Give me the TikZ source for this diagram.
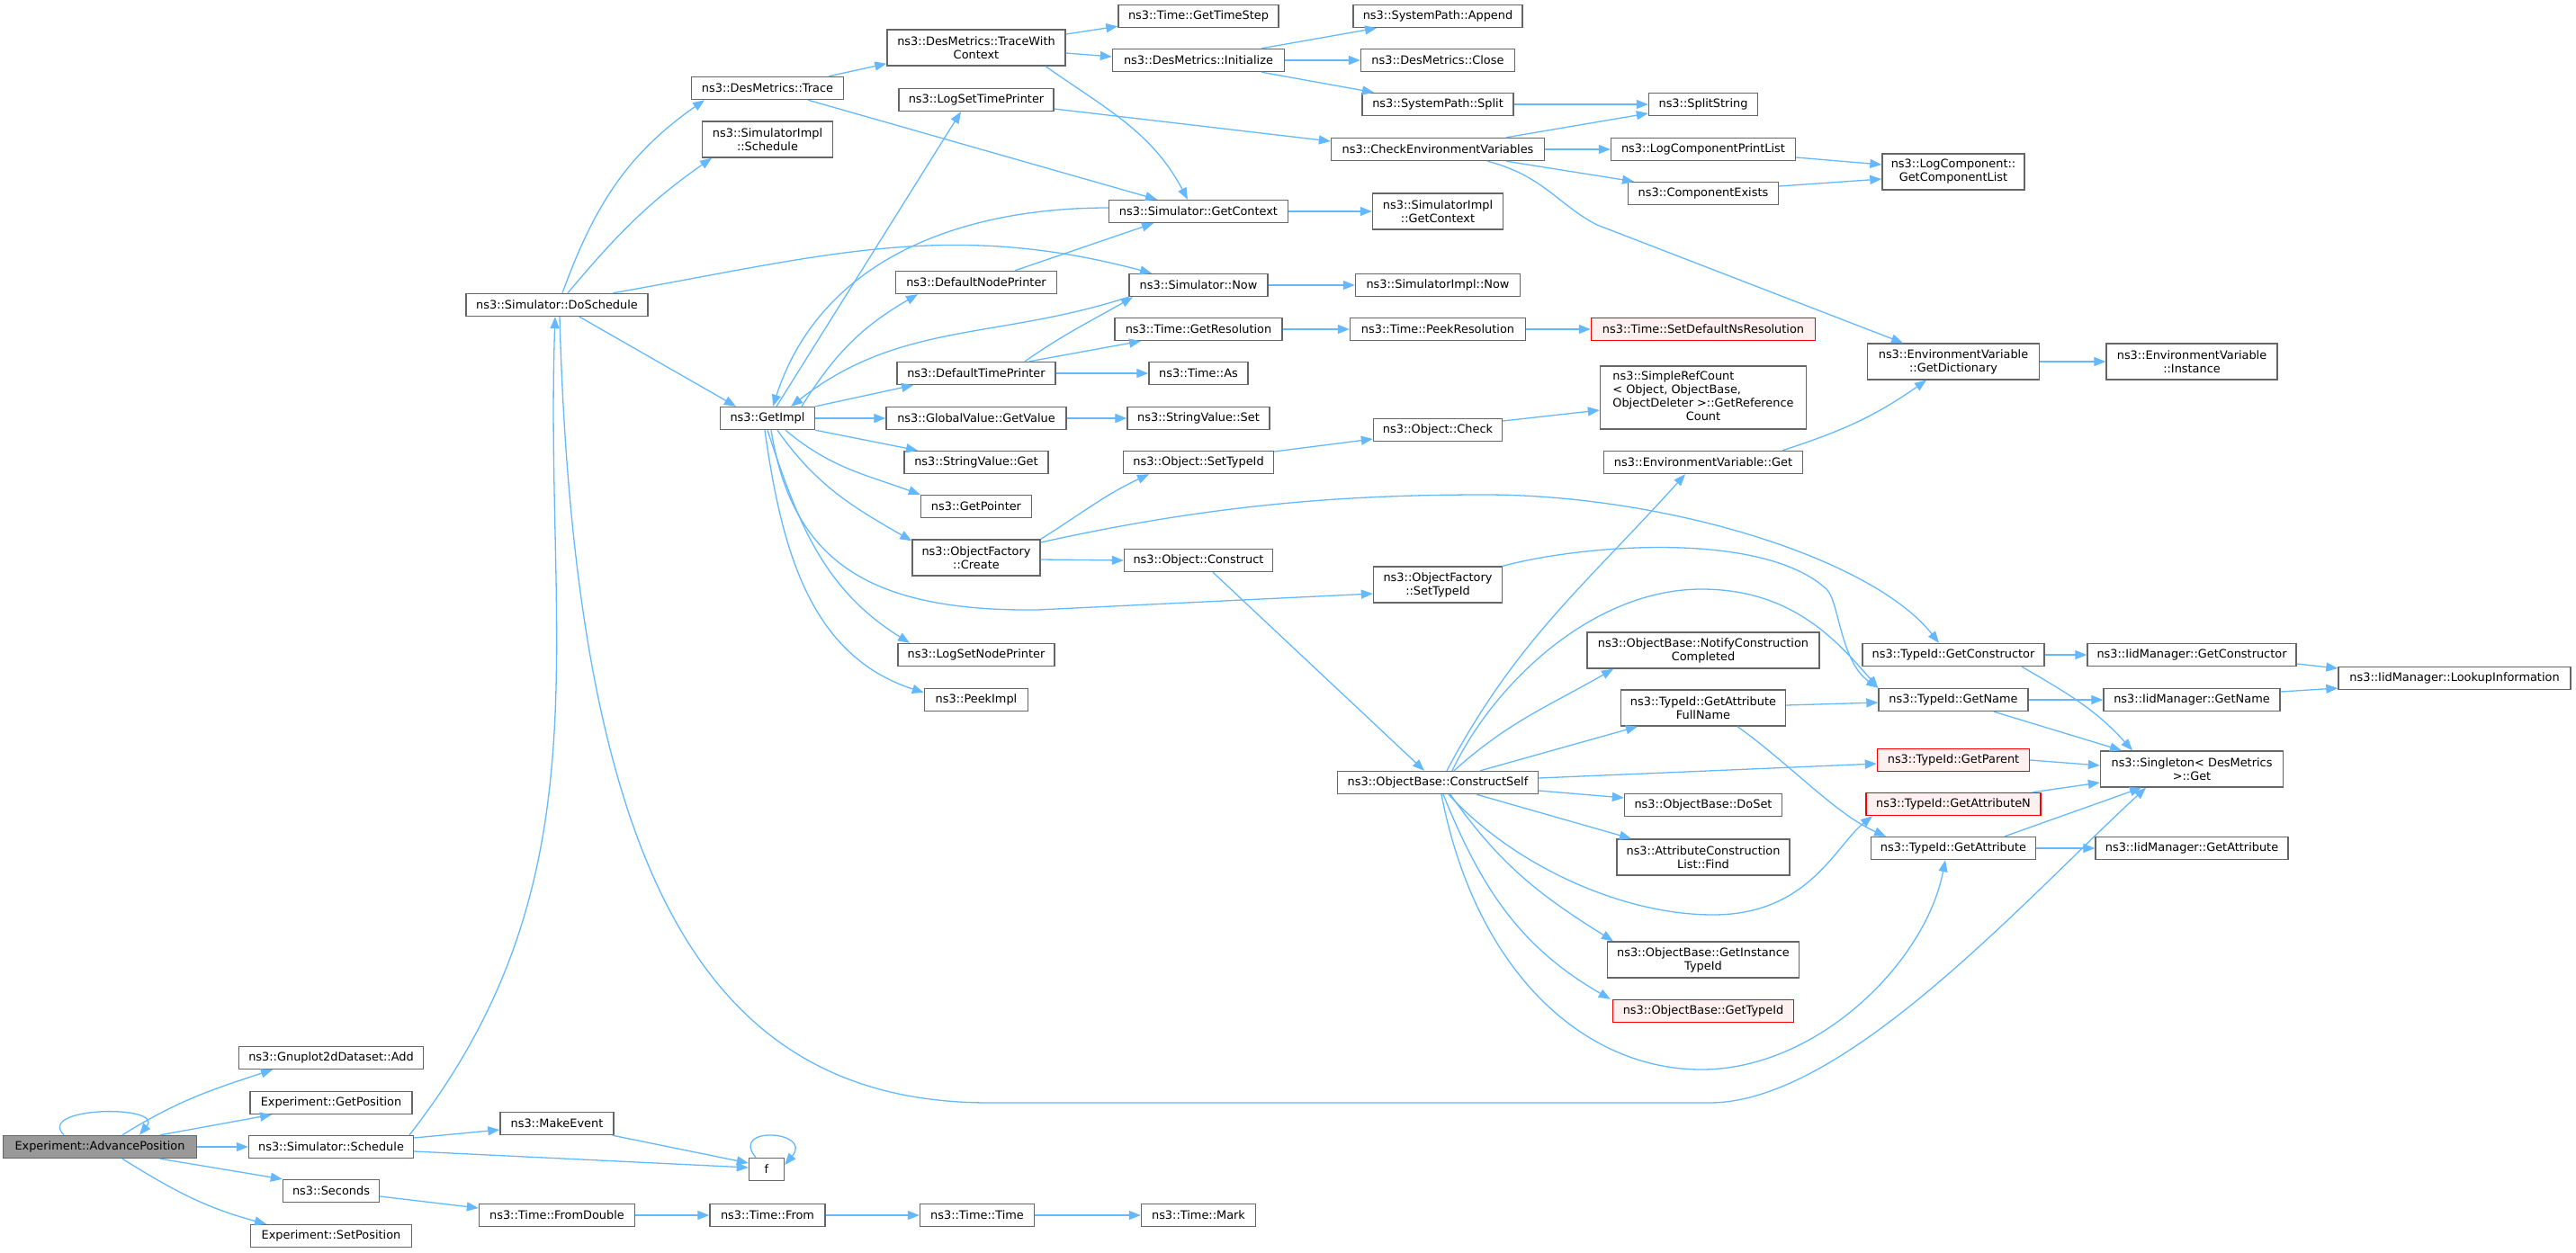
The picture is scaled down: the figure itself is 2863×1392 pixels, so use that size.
\documentclass[tikz,border=0pt]{standalone}
\usepackage{fontspec}
\setmainfont{DejaVu Sans}
\usetikzlibrary{arrows.meta}
\definecolor{edgeblue}{HTML}{63B8FF}
\definecolor{nodegray}{HTML}{666666}
\definecolor{rootfill}{HTML}{999999}
\definecolor{redfill}{HTML}{FFF0F0}

\begin{document}
\begin{tikzpicture}[
    x=1pt, y=1pt,
    box/.style={rectangle, draw=nodegray, fill=white, line width=1.4pt, minimum height=25pt, inner xsep=2pt, inner ysep=2pt, align=center, font=\fontsize{12.9}{15}\selectfont},
    tallbox/.style={box, minimum height=40pt},
    redbox/.style={box, draw=red, fill=redfill},
    arrow/.style={-{Triangle[length=13pt, width=10pt]}, draw=edgeblue, line width=1.3pt}
]
\useasboundingbox (0,0) rectangle (2863,-1392);

\node[box, fill=rootfill, minimum width=215pt] (adv) at (111,-1275) {Experiment::AdvancePosition};

\node[box, minimum width=205pt] (gnuplot) at (368,-1176) {ns3::Gnuplot2dDataset::Add};
\node[box, minimum width=180pt] (getpos) at (368,-1226) {Experiment::GetPosition};
\node[box, minimum width=183pt] (sched) at (368,-1275) {ns3::Simulator::Schedule};
\node[box, minimum width=107pt] (seconds) at (368,-1324) {ns3::Seconds};
\node[box, minimum width=179pt] (setpos) at (368,-1374) {Experiment::SetPosition};

\node[box, minimum width=202pt] (dosched) at (619,-339) {ns3::Simulator::DoSchedule};
\node[box, minimum width=126pt] (makeev) at (619,-1249) {ns3::MakeEvent};
\node[box, minimum width=173pt] (fromdbl) at (619,-1351) {ns3::Time::FromDouble};

\node[box, minimum width=169pt] (trace) at (853,-98) {ns3::DesMetrics::Trace};
\node[tallbox, minimum width=145pt] (implsched) at (853,-155) {ns3::SimulatorImpl\\::Schedule};
\node[box, minimum width=105pt] (getimpl) at (853,-465) {ns3::GetImpl};
\node[box, minimum width=39pt] (f) at (852,-1300) {f};
\node[box, minimum width=128pt] (from) at (853,-1351) {ns3::Time::From};

\node[tallbox, minimum width=198pt] (tracectx) at (1085,-53) {ns3::DesMetrics::TraceWith\\Context};
\node[box, minimum width=172pt] (logtp) at (1085,-111) {ns3::LogSetTimePrinter};
\node[box, minimum width=179pt] (defnode) at (1085,-314) {ns3::DefaultNodePrinter};
\node[box, minimum width=176pt] (deftime) at (1085,-415) {ns3::DefaultTimePrinter};
\node[box, minimum width=200pt] (gvget) at (1085,-465) {ns3::GlobalValue::GetValue};
\node[box, minimum width=160pt] (svget) at (1085,-514) {ns3::StringValue::Get};
\node[box, minimum width=123pt] (getptr) at (1085,-563) {ns3::GetPointer};
\node[tallbox, minimum width=142pt] (ofcreate) at (1085,-620) {ns3::ObjectFactory\\::Create};
\node[box, minimum width=174pt] (lognp) at (1085,-728) {ns3::LogSetNodePrinter};
\node[box, minimum width=115pt] (peekimpl) at (1085,-778) {ns3::PeekImpl};
\node[box, minimum width=127pt] (timetime) at (1086,-1351) {ns3::Time::Time};

\node[box, minimum width=178pt] (timestep) at (1332,-18) {ns3::Time::GetTimeStep};
\node[box, minimum width=191pt] (dminit) at (1332,-67) {ns3::DesMetrics::Initialize};
\node[box, minimum width=199pt] (getctx) at (1332,-235) {ns3::Simulator::GetContext};
\node[box, minimum width=154pt] (simnow) at (1332,-317) {ns3::Simulator::Now};
\node[box, minimum width=186pt] (getres) at (1332,-366) {ns3::Time::GetResolution};
\node[box, minimum width=110pt] (timeas) at (1332,-415) {ns3::Time::As};
\node[box, minimum width=158pt] (svset) at (1332,-465) {ns3::StringValue::Set};
\node[box, minimum width=167pt] (objsettid) at (1332,-514) {ns3::Object::SetTypeId};
\node[box, minimum width=165pt] (objconstr) at (1332,-623) {ns3::Object::Construct};
\node[box, minimum width=127pt] (timemark) at (1332,-1351) {ns3::Time::Mark};

\node[box, minimum width=188pt] (append) at (1598,-18) {ns3::SystemPath::Append};
\node[box, minimum width=171pt] (dmclose) at (1598,-67) {ns3::DesMetrics::Close};
\node[box, minimum width=168pt] (split) at (1598,-116) {ns3::SystemPath::Split};
\node[box, minimum width=237pt] (checkenv) at (1598,-166) {ns3::CheckEnvironmentVariables};
\node[tallbox, minimum width=145pt] (implctx) at (1598,-235) {ns3::SimulatorImpl\\::GetContext};
\node[box, minimum width=183pt] (implnow) at (1598,-317) {ns3::SimulatorImpl::Now};
\node[box, minimum width=195pt] (peekres) at (1598,-366) {ns3::Time::PeekResolution};
\node[box, minimum width=143pt] (objcheck) at (1598,-478) {ns3::Object::Check};
\node[tallbox, minimum width=143pt] (ofsettid) at (1598,-650) {ns3::ObjectFactory\\::SetTypeId};
\node[box, minimum width=223pt] (cself) at (1598,-870) {ns3::ObjectBase::ConstructSelf};

\node[box, minimum width=121pt] (splitstr) at (1893,-116) {ns3::SplitString};
\node[box, minimum width=205pt] (logcpl) at (1893,-166) {ns3::LogComponentPrintList};
\node[box, minimum width=167pt] (compex) at (1893,-215) {ns3::ComponentExists};
\node[redbox, minimum width=249pt] (setdefres) at (1893,-366) {ns3::Time::SetDefaultNsResolution};
\node[box, minimum width=229pt, minimum height=70pt] (refcount) at (1893,-442) {\begin{tabular}{@{}l@{}}ns3::SimpleRefCount\\< Object, ObjectBase,\\ObjectDeleter >::GetReference\\\multicolumn{1}{@{}c@{}}{Count}\end{tabular}};
\node[box, minimum width=221pt] (envget) at (1893,-514) {ns3::EnvironmentVariable::Get};
\node[tallbox, minimum width=258pt] (notify) at (1893,-723) {ns3::ObjectBase::NotifyConstruction\\Completed};
\node[tallbox, minimum width=183pt] (attrfull) at (1893,-787) {ns3::TypeId::GetAttribute\\FullName};
\node[box, minimum width=175pt] (doset) at (1893,-895) {ns3::ObjectBase::DoSet};
\node[tallbox, minimum width=192pt] (attrfind) at (1893,-953) {ns3::AttributeConstruction\\List::Find};
\node[tallbox, minimum width=213pt] (insttid) at (1893,-1067) {ns3::ObjectBase::GetInstance\\TypeId};
\node[redbox, minimum width=201pt] (obgettid) at (1893,-1124) {ns3::ObjectBase::GetTypeId};

\node[tallbox, minimum width=158pt] (complist) at (2171,-191) {ns3::LogComponent::\\GetComponentList};
\node[tallbox, minimum width=191pt] (getdict) at (2171,-402) {ns3::EnvironmentVariable\\::GetDictionary};
\node[box, minimum width=202pt] (tgetctor) at (2171,-728) {ns3::TypeId::GetConstructor};
\node[box, minimum width=166pt] (tgetname) at (2171,-778) {ns3::TypeId::GetName};
\node[redbox, minimum width=169pt] (tgetparent) at (2171,-845) {ns3::TypeId::GetParent};
\node[redbox, minimum width=194pt] (tgetattrn) at (2171,-894) {ns3::TypeId::GetAttributeN};
\node[box, minimum width=183pt] (tgetattr) at (2171,-943) {ns3::TypeId::GetAttribute};

\node[tallbox, minimum width=190pt] (envinst) at (2436,-402) {ns3::EnvironmentVariable\\::Instance};
\node[box, minimum width=232pt] (iidctor) at (2436,-728) {ns3::IidManager::GetConstructor};
\node[box, minimum width=196pt] (iidname) at (2436,-778) {ns3::IidManager::GetName};
\node[tallbox, minimum width=203pt] (singleton) at (2436,-855) {ns3::Singleton< DesMetrics\\>::Get};
\node[box, minimum width=214pt] (iidattr) at (2436,-943) {ns3::IidManager::GetAttribute};

\node[box, minimum width=258pt] (lookup) at (2728,-754) {ns3::IidManager::LookupInformation};

\draw[arrow] ([xshift=-40pt]adv.north) .. controls +(-32,32) and +(28,34) .. ([xshift=44pt]adv.north);
\draw[arrow] ([xshift=25pt]adv.north) to[out=32, in=198] ([xshift=-65pt]gnuplot.south);
\draw[arrow] ([xshift=67pt]adv.north) -- ([xshift=-66pt]getpos.south);
\draw[arrow] (adv.east) -- (sched.west);
\draw[arrow] ([xshift=67pt]adv.south) -- (seconds.north west);
\draw[arrow] ([xshift=25pt]adv.south) to[out=-32, in=165] ([xshift=-72pt]setpos.north);

\draw[arrow] ([xshift=87pt]sched.north) to[out=52, in=-92] ([xshift=-2pt]dosched.south);
\draw[arrow] ([yshift=10pt]sched.east) -- ([yshift=-7pt]makeev.west);
\draw[arrow] ([yshift=-5pt]sched.east) -- ([yshift=2pt]f.west);
\draw[arrow] ([xshift=-2pt]makeev.south east) -- ([yshift=7pt]f.west);
\draw[arrow] ([xshift=-12pt]f.north) .. controls +(-30,36) and +(32,38) .. ([yshift=5pt]f.east);
\draw[arrow] ([yshift=-6pt]seconds.east) -- ([yshift=8pt]fromdbl.west);
\draw[arrow] (fromdbl.east) -- (from.west);
\draw[arrow] (from.east) -- (timetime.west);
\draw[arrow] (timetime.east) -- (timemark.west);

\draw[arrow] ([xshift=6pt]dosched.north) to[out=70, in=215] ([xshift=-70pt]trace.south);
\draw[arrow] ([xshift=12pt]dosched.north) to[out=50, in=215] ([xshift=-62pt]implsched.south);
\draw[arrow] ([xshift=25pt]dosched.south) -- ([xshift=-35pt]getimpl.north);
\draw[arrow] ([xshift=62pt]dosched.north) to[out=10, in=165] ([xshift=-52pt]simnow.north);
\draw[arrow] ([xshift=3pt]dosched.south) .. controls (640,-1000) and (800,-1226) .. (1100,-1226) -- (1900,-1226) .. controls (2050,-1226) and (2250,-1000) .. ([xshift=-51pt]singleton.south);

\draw[arrow] ([xshift=68pt]trace.north) -- ([yshift=3pt]tracectx.south west);
\draw[arrow] ([xshift=45pt]trace.south) -- ([xshift=-46pt]getctx.north);
\draw[arrow] ([yshift=15pt]tracectx.east) -- ([yshift=2pt]timestep.south west);
\draw[arrow] ([yshift=-6pt]tracectx.east) -- ([yshift=4pt]dminit.west);
\draw[arrow] ([xshift=77pt]tracectx.south) to[out=-35, in=118] ([xshift=-12pt]getctx.north);
\draw[arrow] ([xshift=70pt]dminit.north) -- ([xshift=-68pt]append.south);
\draw[arrow] (dminit.east) -- (dmclose.west);
\draw[arrow] ([xshift=70pt]dminit.south) -- ([xshift=-71pt]split.north);
\draw[arrow] (split.east) -- (splitstr.west);

\draw[arrow] ([yshift=-10pt]logtp.east) -- ([yshift=9pt]checkenv.west);
\draw[arrow] ([xshift=76pt]checkenv.north) -- ([yshift=-10pt]splitstr.west);
\draw[arrow] (checkenv.east) -- (logcpl.west);
\draw[arrow] ([xshift=76pt]checkenv.south) -- ([xshift=-77pt]compex.north);
\draw[arrow] ([xshift=55pt]checkenv.south) .. controls (1715,-195) and (1732,-228) .. (1775,-250) -- ([xshift=-56pt]getdict.north);
\draw[arrow] ([yshift=-9pt]logcpl.east) -- ([yshift=8pt]complist.west);
\draw[arrow] ([yshift=8pt]compex.east) -- ([yshift=-8pt]complist.west);

\draw[arrow] (getctx.east) -- (implctx.west);
\draw[arrow] ([yshift=4pt]getctx.west) to[out=180, in=72] ([xshift=6pt]getimpl.north);
\draw[arrow] (simnow.east) -- (implnow.west);
\draw[arrow] (simnow.south west) to[out=198, in=38] ([xshift=26pt]getimpl.north);
\draw[arrow] ([xshift=43pt]defnode.north) -- ([xshift=-50pt]getctx.south);
\draw[arrow] ([xshift=54pt]deftime.north) to[out=35, in=210] ([xshift=-73pt]simnow.south);
\draw[arrow] ([xshift=59pt]deftime.north) -- ([xshift=-64pt]getres.south);
\draw[arrow] (deftime.east) -- (timeas.west);
\draw[arrow] (getres.east) -- (peekres.west);
\draw[arrow] (peekres.east) -- (setdefres.west);

\draw[arrow] ([xshift=10pt]getimpl.north) -- ([xshift=-17pt]logtp.south);
\draw[arrow] ([xshift=38pt]getimpl.north) to[out=58, in=210] ([xshift=-65pt]defnode.south);
\draw[arrow] (getimpl.north east) -- ([xshift=-70pt]deftime.south);
\draw[arrow] (getimpl.east) -- (gvget.west);
\draw[arrow] (getimpl.south east) -- ([xshift=-65pt]svget.north);
\draw[arrow] ([xshift=20pt]getimpl.south) to[out=-40, in=160] (getptr.north west);
\draw[arrow] ([xshift=11pt]getimpl.south) to[out=-55, in=150] ([yshift=-2pt]ofcreate.north west);
\draw[arrow] ([xshift=4pt]getimpl.south) .. controls (880,-620) and (960,-680) .. (1153,-678) -- ([yshift=-10pt]ofsettid.west);
\draw[arrow] (getimpl.south) to[out=-72, in=148] ([xshift=-74pt]lognp.north);
\draw[arrow] ([xshift=-3pt]getimpl.south) to[out=-82, in=162] ([yshift=8pt]peekimpl.west);
\draw[arrow] (gvget.east) -- (svset.west);

\draw[arrow] (ofcreate.north east) to[out=32, in=205] ([xshift=-55pt]objsettid.south);
\draw[arrow] ([yshift=-2pt]ofcreate.east) -- (objconstr.west);
\draw[arrow] ([yshift=17pt]ofcreate.east) .. controls (1350,-560) and (1500,-550) .. (1650,-550) .. controls (1850,-550) and (2080,-620) .. ([xshift=-16pt]tgetctor.north);
\draw[arrow] ([yshift=12pt]objsettid.east) -- ([yshift=-10pt]objcheck.west);
\draw[arrow] ([yshift=10pt]objcheck.east) -- ([yshift=-14pt]refcount.west);
\draw[arrow] ([xshift=16pt]objconstr.south) -- ([xshift=-15pt]cself.north);
\draw[arrow] (ofsettid.north east) .. controls (1760,-605) and (1960,-590) .. (2030,-655) .. controls (2044,-668) and (2045,-735) .. (tgetname.north west);

\draw[arrow] ([xshift=10pt]cself.north) to[out=62, in=228] ([xshift=-20pt]envget.south);
\draw[arrow] ([xshift=16pt]cself.north) .. controls (1660,-760) and (1770,-655) .. (1891,-655) .. controls (1990,-655) and (2040,-710) .. (tgetname.north west);
\draw[arrow] ([xshift=18pt]cself.north) to[out=42, in=210] ([xshift=-100pt]notify.south);
\draw[arrow] ([xshift=47pt]cself.north) -- ([xshift=-73pt]attrfull.south);
\draw[arrow] ([yshift=5pt]cself.east) -- ([yshift=-4pt]tgetparent.west);
\draw[arrow] ([yshift=-9pt]cself.east) -- ([yshift=8pt]doset.west);
\draw[arrow] ([xshift=43pt]cself.south) -- ([xshift=-80pt]attrfind.north);
\draw[arrow] ([xshift=12pt]cself.south) .. controls (1680,-960) and (1800,-1017) .. (1904,-1017) .. controls (2010,-1017) and (2040,-940) .. ([xshift=-90pt]tgetattrn.south);
\draw[arrow] ([xshift=14pt]cself.south) to[out=-55, in=148] ([xshift=-100pt]insttid.north);
\draw[arrow] ([xshift=6pt]cself.south) to[out=-68, in=150] ([xshift=-2pt]obgettid.north west);
\draw[arrow] ([xshift=4pt]cself.south) .. controls (1640,-1080) and (1760,-1189) .. (1891,-1189) .. controls (2020,-1189) and (2140,-1070) .. ([xshift=-9pt]tgetattr.south);

\draw[arrow] ([yshift=3pt]attrfull.east) -- ([yshift=-3pt]tgetname.west);
\draw[arrow] ([xshift=38pt]attrfull.south) .. controls (1990,-850) and (2040,-905) .. ([xshift=-75pt]tgetattr.north);
\draw[arrow] ([xshift=88pt]envget.north) to[out=18, in=215] ([xshift=-30pt]getdict.south);
\draw[arrow] (getdict.east) -- (envinst.west);

\draw[arrow] (tgetctor.east) -- (iidctor.west);
\draw[arrow] ([xshift=76pt]tgetctor.south) to[out=-30, in=132] ([xshift=-66pt]singleton.north);
\draw[arrow] (tgetname.east) -- (iidname.west);
\draw[arrow] ([xshift=45pt]tgetname.south) -- ([xshift=-78pt]singleton.north);
\draw[arrow] (tgetparent.east) -- ([yshift=4pt]singleton.west);
\draw[arrow] ([xshift=-10pt]tgetattrn.north east) -- ([yshift=-15pt]singleton.west);
\draw[arrow] (tgetattr.east) -- (iidattr.west);
\draw[arrow] ([xshift=57pt]tgetattr.north) -- ([xshift=-56pt]singleton.south);
\draw[arrow] ([yshift=-10pt]iidctor.east) -- ([yshift=11pt]lookup.west);
\draw[arrow] ([yshift=9pt]iidname.east) -- ([yshift=-11pt]lookup.west);

\end{tikzpicture}
\end{document}
